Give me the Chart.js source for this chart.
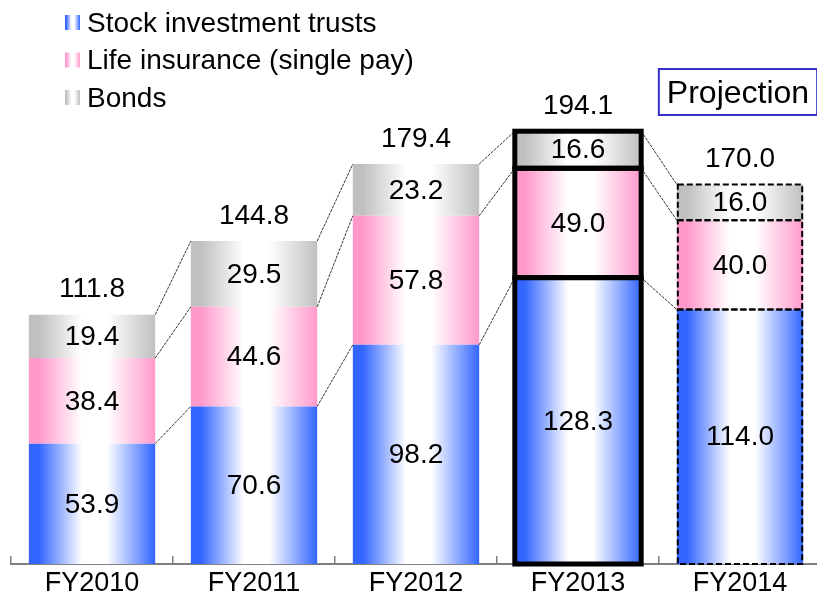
<!DOCTYPE html>
<html lang="en">
<head>
<meta charset="UTF-8">
<title>Sales balance by product</title>
<script src="https://cdn.jsdelivr.net/npm/chart.js"></script>
<style>
  html, body { margin: 0; padding: 0; overflow: hidden; background: #fff; }
  #wrap { width: 821px; height: 599px; }
</style>
</head>
<body>
<div id="wrap"><canvas id="salesChart" width="821" height="599"></canvas></div>
<script>
const years = ['FY2010', 'FY2011', 'FY2012', 'FY2013', 'FY2014'];
const stockTrusts = [53.9, 70.6, 98.2, 128.3, 114.0];
const lifeInsurance = [38.4, 44.6, 57.8, 49.0, 40.0];
const bonds = [19.4, 29.5, 23.2, 16.6, 16.0];
const totals = [111.8, 144.8, 179.4, 194.1, 170.0];
const seriesNames = ['Stock investment trusts', 'Life insurance (single pay)', 'Bonds'];
const edgeColors = ['#3366ff', '#ff99cc', '#c0c0c0'];

const highlightIndex = 3;   // FY2013, heavy outline
const projectionIndex = 4;  // FY2014, dashed outline
const barPct = 0.78;
const FONT = '"Liberation Sans", Arial, sans-serif';

function barGradient(ctx, left, right, color) {
    const g = ctx.createLinearGradient(left, 0, right, 0);
    g.addColorStop(0, color);
    g.addColorStop(0.08, color);
    g.addColorStop(0.42, '#ffffff');
    g.addColorStop(0.62, '#ffffff');
    g.addColorStop(1, color);
    return g;
}

function gradientFill(color) {
    return function (c) {
        const xs = c.chart.scales.x;
        if (!xs || c.type !== 'data' || !c.chart.chartArea) return color;
        const center = xs.getPixelForValue(c.dataIndex);
        const half = xs.width / years.length * barPct / 2;
        if (!isFinite(center) || !isFinite(half) || half <= 0) return color;
        return barGradient(c.chart.ctx, center - half, center + half, color);
    };
}

const extras = {
    id: 'extras',
    afterDatasetsDraw(chart) {
        const ctx = chart.ctx;
        const metas = [0, 1, 2].map(i => chart.getDatasetMeta(i));
        ctx.save();

        // connector lines between segment tops
        ctx.strokeStyle = '#333';
        ctx.lineWidth = 1;
        ctx.setLineDash([3, 1]);
        for (let i = 0; i < years.length - 1; i++) {
            metas.forEach(m => {
                const a = m.data[i], b = m.data[i + 1];
                ctx.beginPath();
                ctx.moveTo(a.x + a.width / 2, a.y);
                ctx.lineTo(b.x - b.width / 2, b.y);
                ctx.stroke();
            });
        }

        // FY2013 heavy outline
        ctx.setLineDash([]);
        ctx.lineWidth = 5;
        ctx.strokeStyle = '#000';
        metas.forEach(m => {
            const el = m.data[highlightIndex];
            ctx.strokeRect(el.x - el.width / 2, el.y, el.width, el.base - el.y);
        });

        // FY2014 dashed outline
        ctx.lineWidth = 2;
        ctx.setLineDash([6, 3]);
        metas.forEach(m => {
            const el = m.data[projectionIndex];
            ctx.strokeRect(el.x - el.width / 2 + 1, el.y, el.width - 2, el.base - el.y);
        });
        ctx.setLineDash([]);

        // value labels
        ctx.fillStyle = '#000';
        ctx.textAlign = 'center';
        ctx.textBaseline = 'middle';
        ctx.font = '28px ' + FONT;
        metas.forEach((m, d) => {
            const vals = chart.data.datasets[d].data;
            m.data.forEach((el, i) => {
                ctx.fillText(vals[i].toFixed(1), el.x, (el.y + el.base) / 2 + 1);
            });
        });
        metas[2].data.forEach((el, i) => {
            ctx.fillText(totals[i].toFixed(1), el.x, el.y - 25);
        });

        // legend
        ctx.textAlign = 'left';
        ctx.font = '28px ' + FONT;
        seriesNames.forEach((name, i) => {
            const cy = 22 + i * 37.5;
            ctx.fillStyle = barGradient(ctx, 65, 80, edgeColors[i]);
            ctx.fillRect(65, cy - 7, 15, 15);
            ctx.fillStyle = '#000';
            ctx.fillText(name, 87, cy + 2);
        });

        // projection tag
        const px = chart.scales.x.getPixelForValue(projectionIndex) - 2;
        const py = chart.chartArea.top + 86;
        ctx.font = '32px ' + FONT;
        const tw = ctx.measureText('Projection').width;
        ctx.strokeStyle = '#3333cc';
        ctx.lineWidth = 2;
        ctx.strokeRect(px - tw / 2 - 8, py - 23, tw + 16, 46);
        ctx.textAlign = 'center';
        ctx.fillText('Projection', px, py + 2);
        ctx.restore();
    }
};

new Chart(document.getElementById('salesChart'), {
    type: 'bar',
    data: {
        labels: years,
        datasets: [
            { label: seriesNames[0], data: stockTrusts, backgroundColor: gradientFill(edgeColors[0]) },
            { label: seriesNames[1], data: lifeInsurance, backgroundColor: gradientFill(edgeColors[1]) },
            { label: seriesNames[2], data: bonds, backgroundColor: gradientFill(edgeColors[2]) }
        ]
    },
    options: {
        responsive: false,
        animation: false,
        devicePixelRatio: 1,
        layout: { padding: { left: 11, right: 0, top: 6, bottom: 0 } },
        datasets: { bar: { barPercentage: barPct, categoryPercentage: 1, borderWidth: 0 } },
        plugins: { legend: { display: false }, tooltip: { enabled: false } },
        scales: {
            x: {
                stacked: true,
                afterFit(s) { s.height = 35; },
                border: { display: true, color: '#808080', width: 2 },
                grid: { offset: true, drawOnChartArea: false, drawTicks: true, tickLength: -8, color: '#808080', lineWidth: 1.5 },
                ticks: { color: '#000', font: { family: FONT, size: 27 }, padding: 11 }
            },
            y: {
                stacked: true,
                display: false,
                min: 0,
                max: 250
            }
        }
    },
    plugins: [extras]
});
</script>
</body>
</html>
